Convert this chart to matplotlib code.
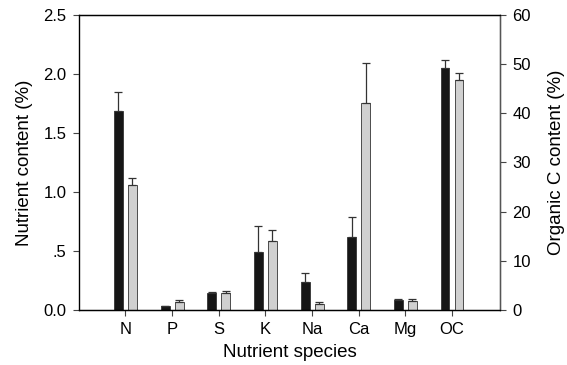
"""Nutrient content bar chart with organic C on secondary axis."""
import matplotlib
matplotlib.use("Agg")
import matplotlib.pyplot as plt
import numpy as np

plt.rcParams["font.family"] = ["Liberation Sans", "DejaVu Sans"]

species = ["N", "P", "S", "K", "Na", "Ca", "Mg"]
black_vals = [1.69, 0.034, 0.147, 0.49, 0.24, 0.62, 0.087]
black_err = [0.155, 0.0, 0.005, 0.22, 0.076, 0.165, 0.009]
gray_vals = [1.057, 0.07, 0.14, 0.58, 0.05, 1.75, 0.076]
gray_err = [0.063, 0.012, 0.02, 0.10, 0.02, 0.34, 0.02]

oc_label = "OC"
oc_black = 49.2
oc_black_err = 1.6
oc_gray = 46.7
oc_gray_err = 1.5

left_ticks = [0.0, 0.5, 1.0, 1.5, 2.0, 2.5]
left_ticklabels = ["0.0", ".5", "1.0", "1.5", "2.0", "2.5"]
right_ticks = [0, 10, 20, 30, 40, 50, 60]

width = 0.19
off = 0.15
black_col = "#161616"
gray_col = "#d0d0d0"
edge = "#333333"
fs_tick = 12
fs_label = 13.5

fig = plt.figure(figsize=(5.67, 3.65), dpi=100)
ax = fig.add_axes([0.139, 0.151, 0.743, 0.808])
ax2 = ax.twinx()

x = np.arange(len(species))
zeros = np.zeros(len(species))
err_kw = dict(ecolor=edge, elinewidth=0.9, capsize=3, capthick=0.9)
ax.bar(x - off, black_vals, width, color=black_col, edgecolor=edge, linewidth=0.6,
       yerr=[zeros, black_err], error_kw=err_kw)
ax.bar(x + off, gray_vals, width, color=gray_col, edgecolor=edge, linewidth=0.6,
       yerr=[zeros, gray_err], error_kw=err_kw)

xo = len(species)
ax2.bar(xo - off, oc_black, width, color=black_col, edgecolor=edge, linewidth=0.6,
        yerr=[[0], [oc_black_err]], error_kw=err_kw)
ax2.bar(xo + off, oc_gray, width, color=gray_col, edgecolor=edge, linewidth=0.6,
        yerr=[[0], [oc_gray_err]], error_kw=err_kw)

ax.set_xlim(-1.0, 8.03)
ax.set_ylim(0, 2.5)
ax2.set_ylim(0, 60)
ax.set_xticks(list(x) + [xo])
ax.set_xticklabels(species + [oc_label], fontsize=fs_tick)
ax.set_yticks(left_ticks)
ax.set_yticklabels(left_ticklabels, fontsize=fs_tick)
ax2.set_yticks(right_ticks)
ax2.tick_params(axis="y", labelsize=fs_tick)

for a in (ax, ax2):
    a.tick_params(direction="out", length=4, width=0.8, color="#444444", pad=5)
    for s in a.spines.values():
        s.set_linewidth(0.9)
ax.spines["left"].set_color("#777777")
ax2.spines["right"].set_color("#555555")

ax.set_xlabel("Nutrient species", fontsize=fs_label, labelpad=5)
ax.set_ylabel("Nutrient content (%)", fontsize=fs_label, labelpad=7)
ax2.set_ylabel("Organic C content (%)", fontsize=fs_label, labelpad=12)

plt.savefig("out.png", dpi=100)
plt.close()
